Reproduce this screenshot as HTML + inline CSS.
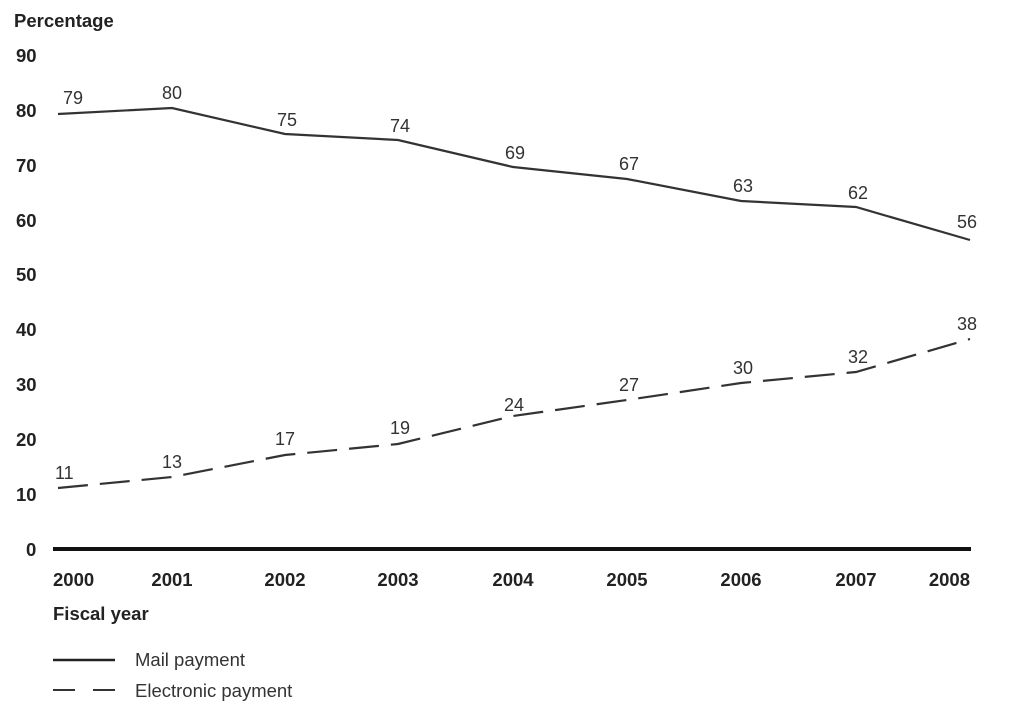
<!DOCTYPE html>
<html><head><style>body{margin:0;background:#fff}</style></head><body>
<svg width="1024" height="712" xmlns="http://www.w3.org/2000/svg" font-family="Liberation Sans, Arial, sans-serif">
<g font-weight="bold" font-size="18.5" fill="#222">
<text x="14" y="27">Percentage</text>
<text x="16" y="62">90</text>
<text x="16" y="117">80</text>
<text x="16" y="172">70</text>
<text x="16" y="227">60</text>
<text x="16" y="281">50</text>
<text x="16" y="336">40</text>
<text x="16" y="391">30</text>
<text x="16" y="446">20</text>
<text x="16" y="501">10</text>
<text x="26" y="556">0</text>
<g text-anchor="middle">
<text x="53" y="586" text-anchor="start">2000</text><text x="172" y="586">2001</text><text x="285" y="586">2002</text><text x="398" y="586">2003</text><text x="513" y="586">2004</text><text x="627" y="586">2005</text><text x="741" y="586">2006</text><text x="856" y="586">2007</text><text x="970" y="586" text-anchor="end">2008</text>
</g>
<text x="53" y="620">Fiscal year</text>
</g>
<line x1="53" y1="549" x2="971" y2="549" stroke="#111" stroke-width="4"/>
<polyline fill="none" stroke="#333" stroke-width="2.2" points="58,114 172,108 285,134 398,140 513,167 627,179 741,201 856,207 970,240"/>
<polyline fill="none" stroke="#333" stroke-width="2.2" stroke-dasharray="30,12" points="58,488 172,477 285,455 398,444 513,416 627,400 741,383 856,372 970,339"/>
<g font-size="18" fill="#333" text-anchor="middle">
<text x="63" y="104" text-anchor="start">79</text><text x="172" y="99">80</text><text x="287" y="126">75</text><text x="400" y="132">74</text><text x="515" y="159">69</text><text x="629" y="170">67</text><text x="743" y="192">63</text><text x="858" y="199">62</text><text x="967" y="228">56</text>
<text x="55" y="479" text-anchor="start">11</text><text x="172" y="468">13</text><text x="285" y="445">17</text><text x="400" y="434">19</text><text x="514" y="411">24</text><text x="629" y="391">27</text><text x="743" y="374">30</text><text x="858" y="363">32</text><text x="967" y="330">38</text>
</g>
<line x1="53" y1="660" x2="115" y2="660" stroke="#222" stroke-width="2.5"/>
<line x1="53" y1="690" x2="115" y2="690" stroke="#333" stroke-width="2" stroke-dasharray="22,18"/>
<g font-size="18.5" fill="#333"><text x="135" y="666">Mail payment</text><text x="135" y="697">Electronic payment</text></g>
</svg>
</body></html>
